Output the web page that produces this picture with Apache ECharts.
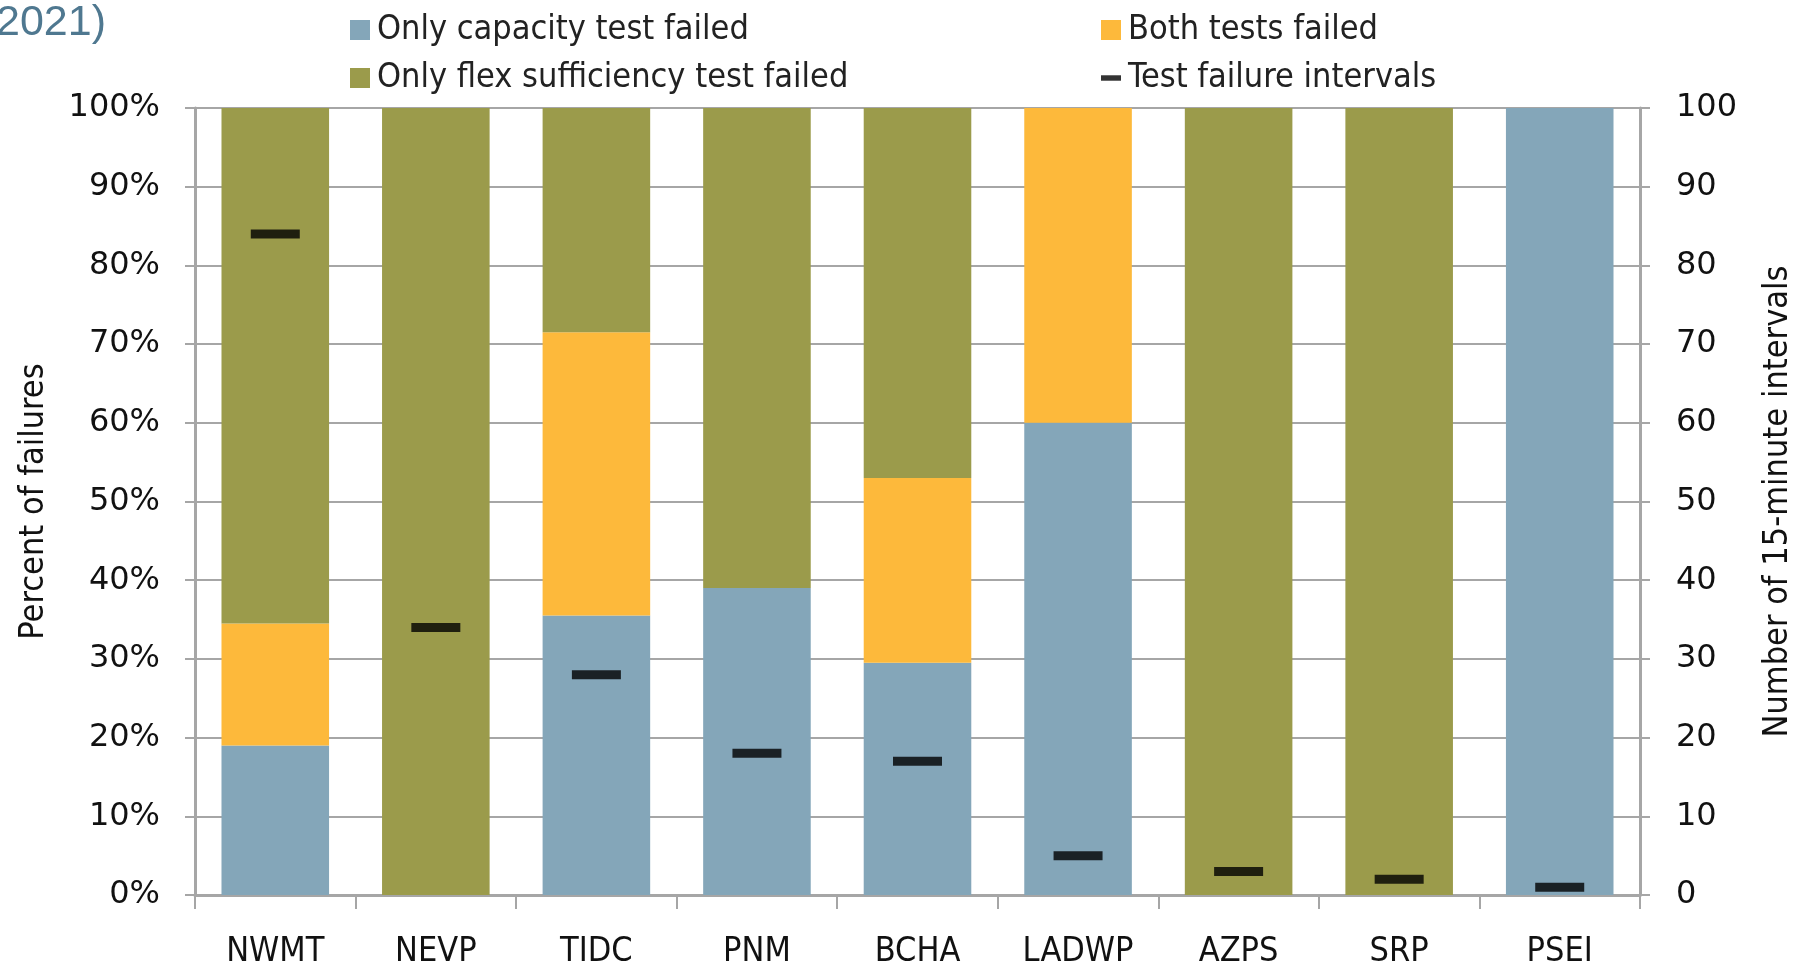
<!DOCTYPE html>
<html>
<head>
<meta charset="utf-8">
<script src="https://cdn.jsdelivr.net/npm/echarts@6/dist/echarts.min.js"></script>
<style>
  html, body { margin: 0; padding: 0; background: #fff; }
  #chart { width: 1798px; height: 966px; }
</style>
</head>
<body>
<div id="chart"></div>
<script>
// categories (balancing areas)
var areas = ['NWMT', 'NEVP', 'TIDC', 'PNM', 'BCHA', 'LADWP', 'AZPS', 'SRP', 'PSEI'];
// percent of failures
var onlyCapacity = [19, 0, 35.5, 39, 29.5, 60, 0, 0, 100];
var bothFailed = [15.5, 0, 36, 0, 23.5, 40, 0, 0, 0];
var onlyFlex = [65.5, 100, 28.5, 61, 47, 0, 100, 100, 0];
// number of 15-minute intervals with a test failure
var failureIntervals = [84, 34, 28, 18, 17, 5, 3, 2, 1];

var narrow = '"Liberation Sans Narrow", "DejaVu Sans Condensed", sans-serif';
var wide = '"DejaVu Sans", sans-serif';
var gridColor = '#a6a6a6';

var chart = echarts.init(document.getElementById('chart'));

var dashIcon = 'path://M0,0 L0,0 M0,7 L22,7 L22,13 L0,13 Z M22,20 L22,20';

chart.setOption({
  backgroundColor: '#fff',
  animation: false,
  graphic: [{
    type: 'text',
    left: -4,
    top: 2,
    style: { text: '2021)', fontSize: 43, fontFamily: '"Liberation Sans", Arial, sans-serif', fill: '#4f7890' }
  }],
  legend: [{
    orient: 'vertical',
    left: 345,
    top: 8,
    itemWidth: 20,
    itemHeight: 20,
    itemGap: 14,
    textStyle: { fontSize: 34, fontFamily: narrow, color: '#222', lineHeight: 32, padding: [0, 0, 0, 2] },
    data: [
      { name: 'Only capacity test failed', icon: 'rect' },
      { name: 'Only flex sufficiency test failed', icon: 'rect' }
    ]
  }, {
    orient: 'vertical',
    left: 1096,
    top: 8,
    itemWidth: 20,
    itemHeight: 20,
    itemGap: 14,
    textStyle: { fontSize: 34, fontFamily: narrow, color: '#222', lineHeight: 32, padding: [0, 0, 0, 2] },
    data: [
      { name: 'Both tests failed', icon: 'rect' },
      { name: 'Test failure intervals', icon: dashIcon }
    ]
  }],
  grid: { left: 195, right: 158, top: 108, bottom: 71, outerBoundsMode: 'none' },
  xAxis: {
    type: 'category',
    data: areas,
    axisLine: { lineStyle: { color: gridColor, width: 3 } },
    axisTick: { show: true, length: 14, lineStyle: { color: gridColor, width: 2 } },
    axisLabel: { fontSize: 34, fontFamily: narrow, color: '#111', margin: 40 }
  },
  yAxis: [{
    type: 'value',
    min: 0,
    max: 100,
    interval: 10,
    name: 'Percent of failures',
    nameLocation: 'middle',
    nameGap: 144,
    nameTextStyle: { fontSize: 34, fontFamily: narrow, color: '#111' },
    axisLine: { show: true, lineStyle: { color: gridColor, width: 3 } },
    axisTick: { show: true, length: 10, lineStyle: { color: gridColor, width: 2 } },
    axisLabel: { formatter: '{value}%', fontSize: 32, fontFamily: wide, color: '#111', margin: 35 },
    splitLine: { lineStyle: { color: gridColor, width: 2 } }
  }, {
    type: 'value',
    min: 0,
    max: 100,
    interval: 10,
    name: 'Number of 15-minute intervals',
    nameLocation: 'middle',
    nameGap: 121,
    nameRotate: 90,
    nameTextStyle: { fontSize: 34, fontFamily: narrow, color: '#111' },
    axisLine: { show: true, lineStyle: { color: gridColor, width: 3 } },
    axisTick: { show: true, length: 10, lineStyle: { color: gridColor, width: 2 } },
    axisLabel: { fontSize: 32, fontFamily: wide, color: '#111', margin: 36 },
    splitLine: { show: false }
  }],
  series: [{
    name: 'Only capacity test failed',
    type: 'bar',
    stack: 'pct',
    barCategoryGap: '33%',
    itemStyle: { color: '#84a6b9' },
    data: onlyCapacity
  }, {
    name: 'Both tests failed',
    type: 'bar',
    stack: 'pct',
    itemStyle: { color: '#fdb93b' },
    data: bothFailed
  }, {
    name: 'Only flex sufficiency test failed',
    type: 'bar',
    stack: 'pct',
    itemStyle: { color: '#9b9b4b' },
    data: onlyFlex
  }, {
    name: 'Test failure intervals',
    type: 'scatter',
    yAxisIndex: 1,
    symbol: 'rect',
    symbolSize: [49, 9],
    itemStyle: { color: '#000' },
    z: 5,
    data: failureIntervals
  }]
});
</script>
</body>
</html>
